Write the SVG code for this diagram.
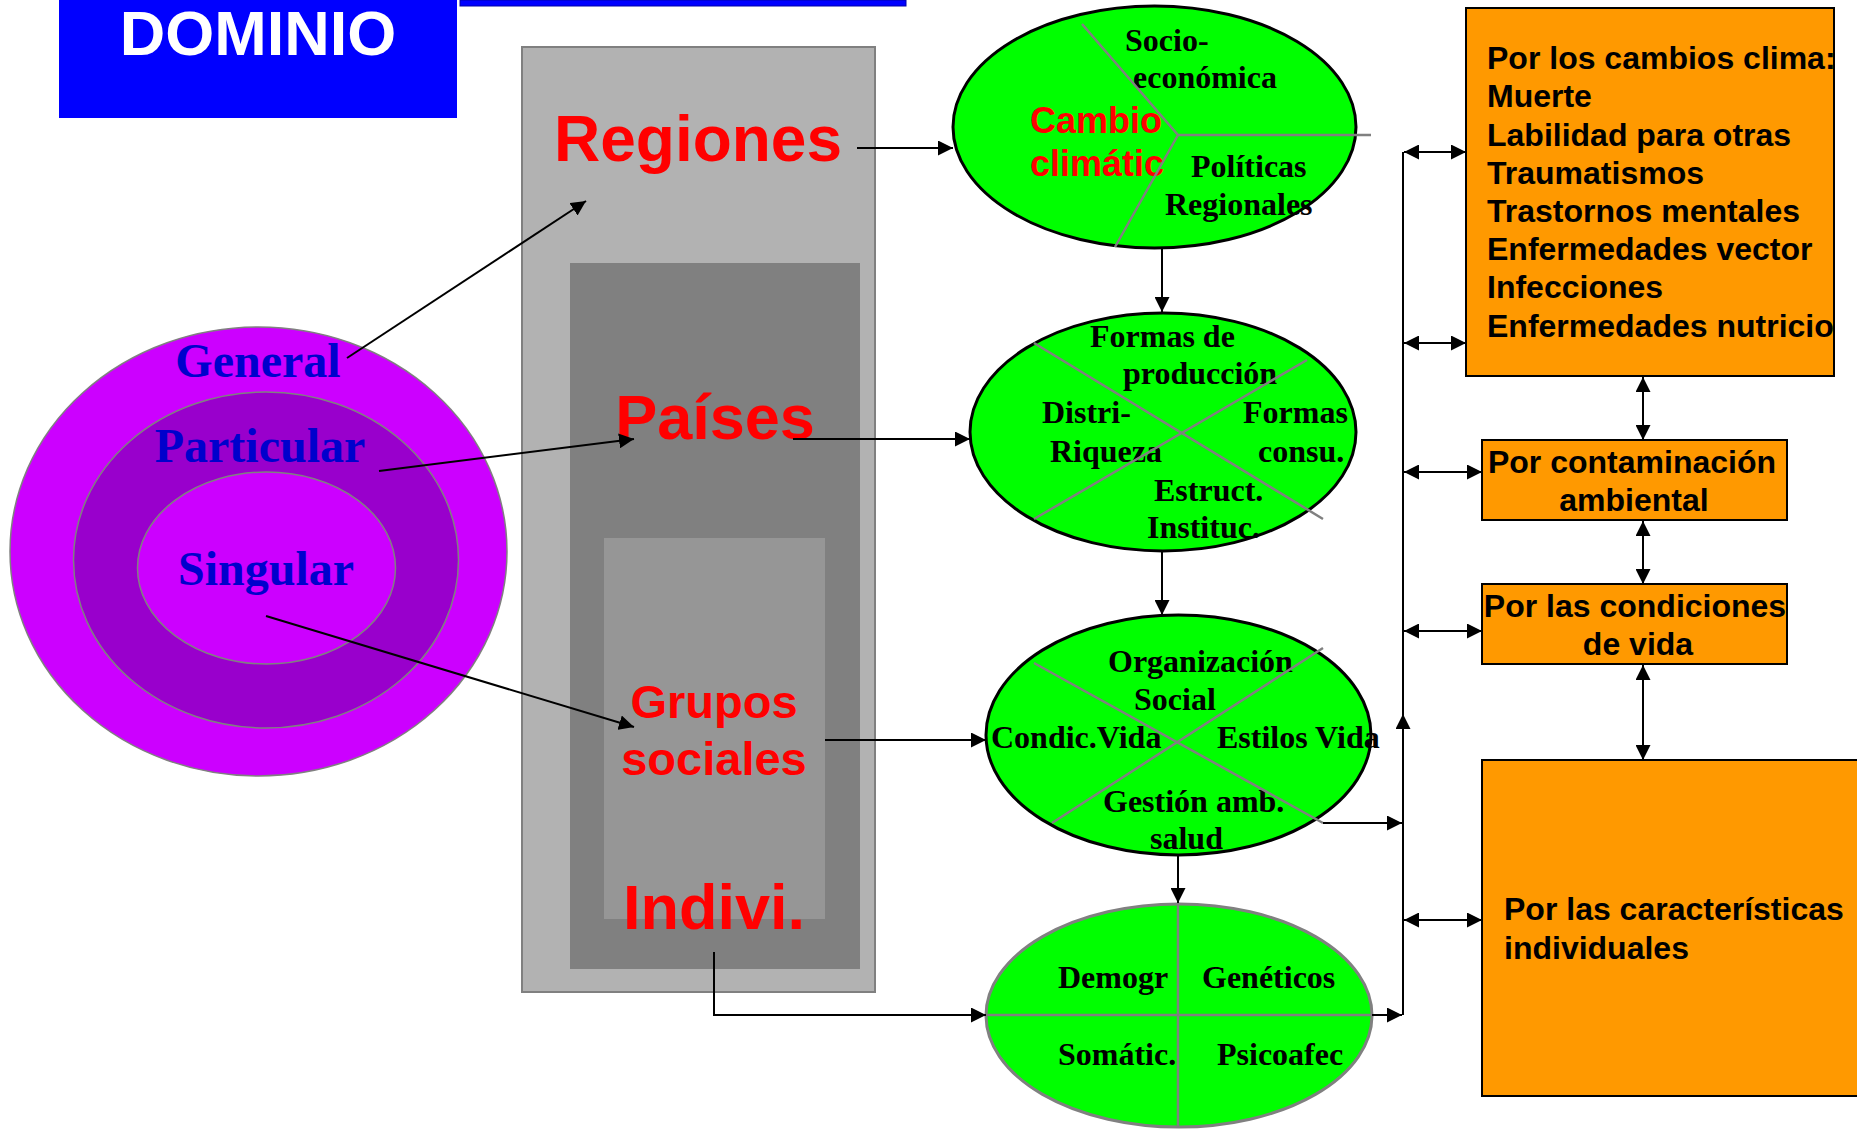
<svg xmlns="http://www.w3.org/2000/svg" width="1857" height="1130" viewBox="0 0 1857 1130">
<defs>
<marker id="ah" markerUnits="userSpaceOnUse" markerWidth="16" markerHeight="15" refX="15" refY="7.5" orient="auto-start-reverse">
<path d="M0,0 L15,7.5 L0,15 z" fill="#000"/>
</marker>
</defs>
<style>
.serif{font-family:"Liberation Serif","Times New Roman",serif;font-weight:bold;font-size:32px;fill:#000}
.sans{font-family:"Liberation Sans",Arial,sans-serif;font-weight:bold}
.red{fill:#ff0000}
.blue{fill:#0000cc;font-size:48px}
.box{fill:#ff9900;stroke:#000;stroke-width:2}
.ell{fill:#00ff00;stroke:#000;stroke-width:3}
.div{stroke:#808080;stroke-width:2.5;fill:none}
.con{stroke:#000;stroke-width:2;fill:none}
.arr{marker-end:url(#ah)}
.dbl{marker-start:url(#ah);marker-end:url(#ah)}
.btx{font-family:"Liberation Sans",Arial,sans-serif;font-weight:bold;font-size:32px;fill:#000}
</style>
<rect width="1857" height="1130" fill="#fff"/>

<g id="dominio">
<rect x="59" y="0" width="398" height="118" fill="#0000ff"/>
<text x="258" y="55" class="sans" font-size="63" fill="#fff" text-anchor="middle">DOMINIO</text>
</g>
<g id="topbar">
<rect x="460" y="0" width="446" height="6" fill="#0000ff" stroke="#0000aa" stroke-width="1"/>
</g>

<g id="escala">
<rect x="522" y="47" width="353" height="945" fill="#b2b2b2" stroke="#808080" stroke-width="2"/>
<rect x="570" y="263" width="290" height="706" fill="#808080"/>
<rect x="604" y="538" width="221" height="381" fill="#969696"/>
<text x="698" y="161" class="sans red" font-size="64" text-anchor="middle">Regiones</text>
<text x="715" y="439" class="sans red" font-size="63" text-anchor="middle">Países</text>
<text x="714" y="718" class="sans red" font-size="47" text-anchor="middle">Grupos</text>
<text x="714" y="775" class="sans red" font-size="47" text-anchor="middle">sociales</text>
<text x="714" y="929" class="sans red" font-size="63" text-anchor="middle">Indivi.</text>
</g>

<g id="niveles">
<ellipse cx="258.5" cy="551.5" rx="248.5" ry="224.5" fill="#cc00ff" stroke="#808080" stroke-width="1.5"/>
<ellipse cx="266" cy="560" rx="192.5" ry="168" fill="#9900cc" stroke="#808080" stroke-width="1.5"/>
<ellipse cx="266.5" cy="568" rx="129" ry="96" fill="#cc00ff" stroke="#808080" stroke-width="1.5"/>
<text x="258" y="377" class="serif blue" text-anchor="middle">General</text>
<text x="260" y="462" class="serif blue" text-anchor="middle">Particular</text>
<text x="266" y="585" class="serif blue" text-anchor="middle">Singular</text>
</g>

<g id="e1">
<ellipse class="ell" cx="1154.5" cy="127" rx="201.5" ry="121"/>
<text x="1125" y="51" class="serif">Socio-</text>
<text x="1133" y="88" class="serif">económica</text>
<text x="1030" y="133" class="sans red" font-size="36">Cambio</text>
<text x="1030" y="176" class="sans red" font-size="36">climátic</text>
<text x="1191" y="177" class="serif">Políticas</text>
<text x="1165" y="215" class="serif">Regionales</text>
<path class="div" d="M1082,24 L1178,135 L1371,135 M1178,135 L1115,247"/>
</g>

<g id="e2">
<ellipse class="ell" cx="1163" cy="432" rx="193" ry="119"/>
<text x="1090" y="347" class="serif">Formas de</text>
<text x="1123" y="384" class="serif">producción</text>
<text x="1042" y="423" class="serif">Distri-</text>
<text x="1050" y="462" class="serif">Riqueza</text>
<text x="1243" y="423" class="serif">Formas</text>
<text x="1258" y="462" class="serif">consu.</text>
<text x="1154" y="501" class="serif">Estruct.</text>
<text x="1147" y="538" class="serif">Instituc.</text>
<path class="div" d="M1034,343 L1323,519 M1307,360 L1034,519"/>
</g>

<g id="e3">
<ellipse class="ell" cx="1178.5" cy="735" rx="192.5" ry="120"/>
<text x="1108" y="672" class="serif">Organización</text>
<text x="1134" y="710" class="serif">Social</text>
<text x="991" y="748" class="serif">Condic.Vida</text>
<text x="1217" y="748" class="serif">Estilos Vida</text>
<text x="1103" y="812" class="serif">Gestión amb.</text>
<text x="1150" y="849" class="serif">salud</text>
<path class="div" d="M1034,663 L1323,823 M1323,648 L1052,823"/>
</g>

<g id="e4">
<ellipse cx="1179" cy="1015.5" rx="193" ry="111.5" fill="#00ff00" stroke="#808080" stroke-width="3"/>
<path class="div" d="M1178,904 V1127 M986,1015 H1372"/>
<text x="1058" y="988" class="serif">Demogr</text>
<text x="1202" y="988" class="serif">Genéticos</text>
<text x="1058" y="1065" class="serif">Somátic.</text>
<text x="1217" y="1065" class="serif">Psicoafec</text>
</g>

<g id="b1">
<rect class="box" x="1466" y="8" width="368" height="368"/>
<text x="1487" y="69" class="btx red">Por los cambios clima:</text>
<text x="1487" y="107" class="btx">Muerte</text>
<text x="1487" y="146" class="btx">Labilidad para otras</text>
<text x="1487" y="184" class="btx">Traumatismos</text>
<text x="1487" y="222" class="btx">Trastornos mentales</text>
<text x="1487" y="260" class="btx">Enfermedades vector</text>
<text x="1487" y="298" class="btx">Infecciones</text>
<text x="1487" y="337" class="btx">Enfermedades nutricio</text>
</g>
<g id="b2">
<rect class="box" x="1482" y="440" width="305" height="80"/>
<text x="1632" y="473" class="btx" text-anchor="middle">Por contaminación</text>
<text x="1634" y="511" class="btx" text-anchor="middle">ambiental</text>
</g>
<g id="b3">
<rect class="box" x="1482" y="584" width="305" height="80"/>
<text x="1635" y="617" class="btx" text-anchor="middle">Por las condiciones</text>
<text x="1638" y="655" class="btx" text-anchor="middle">de vida</text>
</g>
<g id="b4">
<rect class="box" x="1482" y="760" width="380" height="336"/>
<text x="1504" y="920" class="btx">Por las características</text>
<text x="1504" y="959" class="btx">individuales</text>
</g>

<g id="connectors">
<line class="con arr" x1="347" y1="358" x2="586" y2="201"/>
<line class="con arr" x1="379" y1="471" x2="634" y2="439"/>
<line class="con arr" x1="266" y1="616" x2="634" y2="727"/>
<line class="con arr" x1="857" y1="148" x2="953" y2="148"/>
<line class="con arr" x1="793" y1="439" x2="970" y2="439"/>
<line class="con arr" x1="825" y1="740" x2="986" y2="740"/>
<path class="con arr" d="M714,952 V1015 H986"/>
<line class="con arr" x1="1162" y1="248" x2="1162" y2="312"/>
<line class="con arr" x1="1162" y1="551" x2="1162" y2="615"/>
<line class="con arr" x1="1178" y1="855" x2="1178" y2="903"/>
<line class="con arr" x1="1323" y1="823" x2="1402" y2="823"/>
<line class="con arr" x1="1372" y1="1015" x2="1402" y2="1015"/>
<line class="con arr" x1="1403" y1="1015" x2="1403" y2="714"/>
<line class="con" x1="1403" y1="716" x2="1403" y2="152"/>
<line class="con dbl" x1="1404" y1="152" x2="1466" y2="152"/>
<line class="con dbl" x1="1404" y1="343" x2="1466" y2="343"/>
<line class="con dbl" x1="1404" y1="472" x2="1482" y2="472"/>
<line class="con dbl" x1="1404" y1="631" x2="1482" y2="631"/>
<line class="con dbl" x1="1404" y1="920" x2="1482" y2="920"/>
<line class="con dbl" x1="1643" y1="377" x2="1643" y2="440"/>
<line class="con dbl" x1="1643" y1="521" x2="1643" y2="584"/>
<line class="con dbl" x1="1643" y1="665" x2="1643" y2="760"/>
</g>
</svg>
